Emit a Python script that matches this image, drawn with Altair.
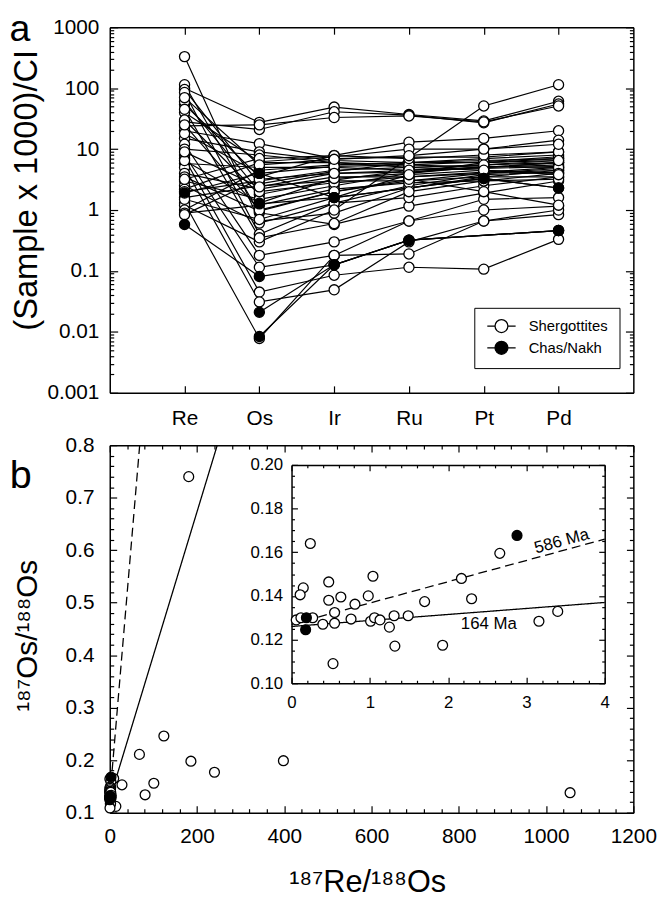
import altair as alt
import pandas as pd

# ---------------- data ----------------
ELEMENTS = ["Re", "Os", "Ir", "Ru", "Pt", "Pd"]
GROUPS = ["Shergottites", "Chas/Nakh"]

# (Re, Os, Ir, Ru, Pt, Pd) normalised abundances
SHERGOTTITES = [
    [100, 27.5, 49, 37, 29, 61],
    [28, 21, 41, 36, 27, 55],
    [24, 25, 33, 35, 28, 51],
    [330, 0.66, 0.89, 2.3, 3.5, 4.5],
    [114, 0.9, 0.58, 1.16, 1.9, 3.0],
    [95, 2.7, 4.3, 6.0, 6.5, 7.0],
    [85, 0.40, 1.3, 1.6, 2.5, 3.5],
    [54, 3.5, 7.9, 13, 15, 20],
    [40, 6.2, 7.5, 10, 10, 14],
    [30, 1.8, 3.1, 4.5, 5.0, 6.0],
    [20, 12.3, 7.0, 7.4, 7.4, 9.0],
    [15, 9.0, 6.5, 6.0, 6.0, 6.5],
    [12, 0.18, 0.30, 0.66, 1.0, 1.16],
    [10, 8.0, 6.0, 5.0, 5.5, 6.0],
    [8, 0.115, 0.18, 0.19, 0.66, 0.84],
    [7, 0.045, 0.085, 0.115, 0.107, 0.33],
    [5.8, 5.0, 5.0, 4.5, 4.8, 5.2],
    [5, 0.031, 0.049, 0.3, 0.66, 1.0],
    [4, 2.2, 3.5, 3.5, 4.0, 4.5],
    [3.5, 0.96, 2.0, 3.0, 4.0, 4.8],
    [3.0, 1.5, 2.5, 4.0, 6.0, 7.0],
    [2.5, 0.61, 1.3, 2.5, 3.8, 4.2],
    [2.2, 6.0, 6.0, 5.5, 5.0, 5.5],
    [2.0, 3.0, 4.5, 5.0, 4.5, 4.0],
    [1.6, 2.5, 3.0, 3.0, 3.5, 3.5],
    [1.3, 0.0078, 0.18, 0.66, 1.5, 1.6],
    [1.2, 0.3, 1.0, 7.2, 51, 114],
    [1.0, 4.5, 5.5, 6.0, 7.0, 8.0],
    [0.89, 1.2, 2.2, 2.8, 3.0, 3.2],
    [0.84, 3.2, 4.0, 4.2, 5.0, 6.0],
    [60, 2.0, 2.8, 3.5, 4.2, 5.0],
    [18, 4.0, 5.2, 5.5, 6.2, 7.5],
    [6.5, 1.3, 3.3, 4.0, 5.2, 5.0],
    [45, 0.35, 0.6, 2.0, 3.0, 4.0],
    [3.2, 7.0, 7.8, 7.0, 8.0, 9.0],
    [9, 2.4, 4.0, 4.5, 5.5, 6.5],
    [25, 1.0, 2.0, 3.2, 2.0, 1.2],
    [1.5, 0.7, 1.6, 3.8, 4.5, 3.8],
    [70, 5.5, 6.8, 7.8, 10, 12],
]
CHAS_NAKH = [
    [1.9, 4.0, 1.6, None, 3.3, 2.3],
    [0.58, 0.081, 0.126, 0.32, None, 0.46],
    [None, 1.26, 1.6, None, 3.3, 2.3],
    [None, 0.021, 0.126, 0.32, None, 0.46],
    [None, 0.0084, 0.126, 0.32, None, 0.46],
]

# panel b: 187Re/188Os vs 187Os/188Os
MAIN_OPEN_X = [181, 68, 124, 186, 240, 398, 101, 81, 28, 1055, 9, 14]
MAIN_OPEN_Y = [0.74, 0.211, 0.246, 0.198, 0.177, 0.199, 0.156, 0.134, 0.153, 0.138, 0.165, 0.112]
INSET_OPEN_X = [0.24, 2.66, 2.17, 1.04, 0.475, 0.15, 0.11, 0.98, 0.63, 0.475, 0.81, 1.70, 2.30,
                0.55, 3.40, 3.16, 0.76, 1.01, 1.06, 1.13, 1.31, 1.49, 1.25, 0.55, 0.40, 1.32,
                1.93, 0.53, 0.06, 0.12, 0.27]
INSET_OPEN_Y = [0.164, 0.1595, 0.148, 0.149, 0.1464, 0.1437, 0.1405, 0.140, 0.1395, 0.138, 0.1362,
                0.1374, 0.1387, 0.1324, 0.1329, 0.1284, 0.1294, 0.1284, 0.130, 0.129, 0.1309,
                0.1309, 0.1257, 0.1275, 0.127, 0.117, 0.1174, 0.109, 0.129, 0.130, 0.130]
FILLED_X = [2.88, 0.19, 0.18]
FILLED_Y = [0.1677, 0.130, 0.1245]

ISO_AGES = ["586 Ma", "164 Ma"]
ISO_MAIN_X = [[0, 68.6], [0, 246.4]]
ISO_MAIN_Y = [[0.127, 0.8], [0.126, 0.8]]
ISO_INSET_X = [[0, 4], [0, 4]]
ISO_INSET_Y = [[0.127, 0.166], [0.126, 0.137]]
ISO_LABEL_X = [3.45, 2.52]
ISO_LABEL_Y = [0.1650, 0.1269]

DECADES = [0.001, 0.01, 0.1, 1, 10, 100, 1000]
XB_MAJ = [0, 200, 400, 600, 800, 1000, 1200]
YB_MAJ = [0.1, 0.2, 0.3, 0.4, 0.5, 0.6, 0.7, 0.8]
XI_MAJ = [0, 1, 2, 3, 4]
YI_MAJ = [0.10, 0.12, 0.14, 0.16, 0.18, 0.20]

Y_TITLE_A = "(Sample x 1000)/CI"
Y_TITLE_B = "\u00b9\u2078\u2077Os/\u00b9\u2078\u2078Os"
X_TITLE_B = "\u00b9\u2078\u2077Re/\u00b9\u2078\u2078Os"

# ---------------- tables ----------------
MINOR_A = [m * d for d in DECADES[:-1] for m in range(2, 10)]
XB_MIN = [v for v in range(0, 1201, 40) if v % 200]
YB_MIN = [round(0.1 + 0.02 * i, 3) for i in range(36) if i % 5]
XI_MIN = [round(0.2 * i, 2) for i in range(21) if i % 5]
YI_MIN = [round(0.1 + 0.005 * i, 3) for i in range(21) if i % 4]

rows = []
for gname, samples in zip(GROUPS, [SHERGOTTITES, CHAS_NAKH]):
    for si, vals in enumerate(samples):
        for k, v in enumerate(vals):
            if v is not None:
                rows.append({"sample": f"{gname}-{si}", "group": gname,
                             "element": ELEMENTS[k], "idx": k, "value": v})
df_a = pd.DataFrame(rows)

df_b_open = pd.DataFrame({"x": MAIN_OPEN_X + INSET_OPEN_X, "y": MAIN_OPEN_Y + INSET_OPEN_Y})
df_filled = pd.DataFrame({"x": FILLED_X, "y": FILLED_Y})
df_i_open = pd.DataFrame({"x": INSET_OPEN_X, "y": INSET_OPEN_Y})

iso_main = pd.DataFrame([{"age": a, "x": x, "y": y}
                         for a, xs, ys in zip(ISO_AGES, ISO_MAIN_X, ISO_MAIN_Y)
                         for x, y in zip(xs, ys)])
iso_inset = pd.DataFrame([{"age": a, "x": x, "y": y}
                          for a, xs, ys in zip(ISO_AGES, ISO_INSET_X, ISO_INSET_Y)
                          for x, y in zip(xs, ys)])
iso_lab = pd.DataFrame({"age": ISO_AGES, "x": ISO_LABEL_X, "y": ISO_LABEL_Y})

# ---------------- layout (plot area coordinates) ----------------
W, H = 530, 795
FONT = "Liberation Sans"

XA = alt.Scale(type="point", domain=ELEMENTS, range=[0, W], padding=1)
YA = alt.Scale(type="log", domain=[0.001, 1000], range=[370, 0], nice=False)
XB = alt.Scale(domain=[0, 1200], range=[0, W], nice=False, zero=False)
YB = alt.Scale(domain=[0.1, 0.8], range=[H, 423], nice=False, zero=False)
XI = alt.Scale(domain=[0, 4], range=[184, 501], nice=False, zero=False)
YI = alt.Scale(domain=[0.1, 0.2], range=[664, 443], nice=False, zero=False)


def axis(orient, offset, values, size=0, labels=False, domain=False, pad=0, fs=21,
         fmt=None, expr=None):
    kw = dict(orient=orient, offset=offset, values=values, title=None, grid=False,
              domain=domain, domainColor="black", domainWidth=1.5,
              ticks=size > 0, tickSize=size, tickColor="black", tickWidth=1.2,
              labels=labels, labelFont=FONT, labelFontSize=fs, labelColor="black",
              labelPadding=pad, labelFlush=False, labelOverlap=False, labelAngle=0)
    if fmt:
        kw["format"] = fmt
    if expr:
        kw["labelExpr"] = expr
    return alt.Axis(**kw)


def ax_layer(data, xf, xs, yf, ys, xa=None, ya=None):
    return alt.Chart(data).mark_point(opacity=0).encode(
        x=alt.X(xf, scale=xs, axis=xa) if xa is not None else alt.X(xf, scale=xs, axis=None),
        y=alt.Y(yf, scale=ys, axis=ya) if ya is not None else alt.Y(yf, scale=ys, axis=None),
    )


LOG_EXPR = "datum.value >= 1 ? format(datum.value, 'd') : format(datum.value, '.3~f')"
layers = []

# ---- panel a axes ----
A = (df_a, "element:N", XA, "value:Q", YA)
layers += [
    ax_layer(*A, xa=axis("bottom", -(H - 370), ELEMENTS, labels=True, domain=True, pad=15),
             ya=axis("left", 0, DECADES, labels=True, domain=True, pad=11, expr=LOG_EXPR)),
    ax_layer(*A, xa=axis("top", -370, ELEMENTS, size=7),
             ya=axis("right", -W, DECADES, size=8)),
    ax_layer(*A, xa=axis("bottom", -H, ELEMENTS, size=7, domain=True),
             ya=axis("left", -W, DECADES, size=8, domain=True)),
    ax_layer(*A, ya=axis("right", -W, MINOR_A, size=4)),
    ax_layer(*A, ya=axis("left", -W, MINOR_A, size=4)),
]

# ---- panel a data ----
legend_symbol = "M-2.2,0H-1M1,0H2.2M1,0A1,1,0,1,1,-1,0A1,1,0,1,1,1,0Z"
layers.append(
    alt.Chart(df_a).mark_line(color="black", strokeWidth=1.2).encode(
        x=alt.X("element:N", scale=XA, axis=None),
        y=alt.Y("value:Q", scale=YA, axis=None),
        detail="sample:N", order="idx:Q")
)
layers.append(
    alt.Chart(df_a).mark_point(shape="circle", filled=True, size=105, stroke="black",
                               strokeWidth=1.3, opacity=1).encode(
        x=alt.X("element:N", scale=XA, axis=None),
        y=alt.Y("value:Q", scale=YA, axis=None),
        fill=alt.Fill("group:N", scale=alt.Scale(domain=GROUPS, range=["white", "black"]),
                      legend=alt.Legend(title=None, orient="none", legendX=369, legendY=284,
                                        symbolType=legend_symbol, symbolSize=170,
                                        symbolStrokeColor="black", symbolStrokeWidth=1.3,
                                        labelFont=FONT, labelFontSize=15, labelColor="black",
                                        strokeColor="black", fillColor="white", padding=11,
                                        symbolOffset=9, labelOffset=20, rowPadding=3)))
)

# ---- panel b axes ----
B = (df_b_open, "x:Q", XB, "y:Q", YB)
layers += [
    ax_layer(*B, xa=axis("bottom", 0, XB_MAJ, labels=True, domain=True, pad=13, fmt="d"),
             ya=axis("left", 0, YB_MAJ, labels=True, domain=True, pad=16, fmt=".1f")),
    ax_layer(*B, xa=axis("top", -H, XB_MAJ, size=7), ya=axis("right", -W, YB_MAJ, size=7)),
    ax_layer(*B, xa=axis("bottom", -372, XB_MAJ, size=7, domain=True),
             ya=axis("left", -W, YB_MAJ, size=7, domain=True)),
    ax_layer(*B, xa=axis("top", -H, XB_MIN, size=4), ya=axis("right", -W, YB_MIN, size=4)),
    ax_layer(*B, xa=axis("bottom", -372, XB_MIN, size=4), ya=axis("left", -W, YB_MIN, size=4)),
]

# ---- inset axes ----
I = (df_i_open, "x:Q", XI, "y:Q", YI)
layers += [
    ax_layer(*I, xa=axis("bottom", -(H - 664), XI_MAJ, labels=True, domain=True, pad=12,
                         fs=17, fmt="d"),
             ya=axis("left", -184, YI_MAJ, labels=True, domain=True, pad=9, fs=17, fmt=".2f")),
    ax_layer(*I, xa=axis("top", -664, XI_MAJ, size=6), ya=axis("right", -(W - 184), YI_MAJ, size=6)),
    ax_layer(*I, xa=axis("bottom", -(H - 443), XI_MAJ, size=6, domain=True),
             ya=axis("left", -501, YI_MAJ, size=6, domain=True)),
    ax_layer(*I, xa=axis("top", -664, XI_MIN, size=3), ya=axis("right", -(W - 184), YI_MIN, size=3)),
    ax_layer(*I, xa=axis("bottom", -(H - 443), XI_MIN, size=3),
             ya=axis("left", -501, YI_MIN, size=3)),
]

# ---- panel b data ----
dash = alt.StrokeDash("age:N", scale=alt.Scale(domain=ISO_AGES, range=[[9, 5], [1, 0]]), legend=None)
layers.append(alt.Chart(iso_main).mark_line(color="black", strokeWidth=1.3).encode(
    x=alt.X("x:Q", scale=XB, axis=None), y=alt.Y("y:Q", scale=YB, axis=None),
    detail="age:N", strokeDash=dash))
layers.append(alt.Chart(iso_inset).mark_line(color="black", strokeWidth=1.3).encode(
    x=alt.X("x:Q", scale=XI, axis=None), y=alt.Y("y:Q", scale=YI, axis=None),
    detail="age:N", strokeDash=dash))

pt = dict(shape="circle", filled=True, size=100, stroke="black", strokeWidth=1.3, opacity=1)
layers.append(alt.Chart(df_b_open).mark_point(fill="white", **pt).encode(
    x=alt.X("x:Q", scale=XB, axis=None), y=alt.Y("y:Q", scale=YB, axis=None)))
layers.append(alt.Chart(df_filled).mark_point(fill="black", **pt).encode(
    x=alt.X("x:Q", scale=XB, axis=None), y=alt.Y("y:Q", scale=YB, axis=None)))
layers.append(alt.Chart(df_i_open).mark_point(fill="white", **pt).encode(
    x=alt.X("x:Q", scale=XI, axis=None), y=alt.Y("y:Q", scale=YI, axis=None)))
layers.append(alt.Chart(df_filled).mark_point(fill="black", **pt).encode(
    x=alt.X("x:Q", scale=XI, axis=None), y=alt.Y("y:Q", scale=YI, axis=None)))

layers.append(alt.Chart(iso_lab).mark_text(font=FONT, fontSize=17, color="black").encode(
    x=alt.X("x:Q", scale=XI, axis=None), y=alt.Y("y:Q", scale=YI, axis=None), text="age:N",
    angle=alt.Angle("age:N", scale=alt.Scale(domain=ISO_AGES, range=[344.7, 0]), legend=None)))


# ---- fixed texts ----
def label(text, x, y, size, angle=0, weight="normal"):
    return alt.Chart(pd.DataFrame({"t": [text]})).mark_text(
        font=FONT, fontSize=size, fontWeight=weight, color="black", align="center",
        baseline="alphabetic", angle=angle).encode(
        x=alt.value(x), y=alt.value(y), text="t:N")


layers += [
    label("a", -91, 14, 38),
    label("b", -90, 466, 40),
    label(Y_TITLE_A, -74, 165, 33, angle=270),
    label(Y_TITLE_B, -74, 616, 30, angle=270),
    label(X_TITLE_B, 261, 875, 31),
]

chart = alt.layer(*layers).resolve_scale(x="independent", y="independent").properties(
    width=W, height=H,
    padding={"left": 103, "top": 14, "right": 29, "bottom": 90},
    autosize=alt.AutoSizeParams(type="none"),
    background="white",
).configure_view(strokeWidth=0)

chart.save("out.html", embed_options={"renderer": "svg", "actions": False})
